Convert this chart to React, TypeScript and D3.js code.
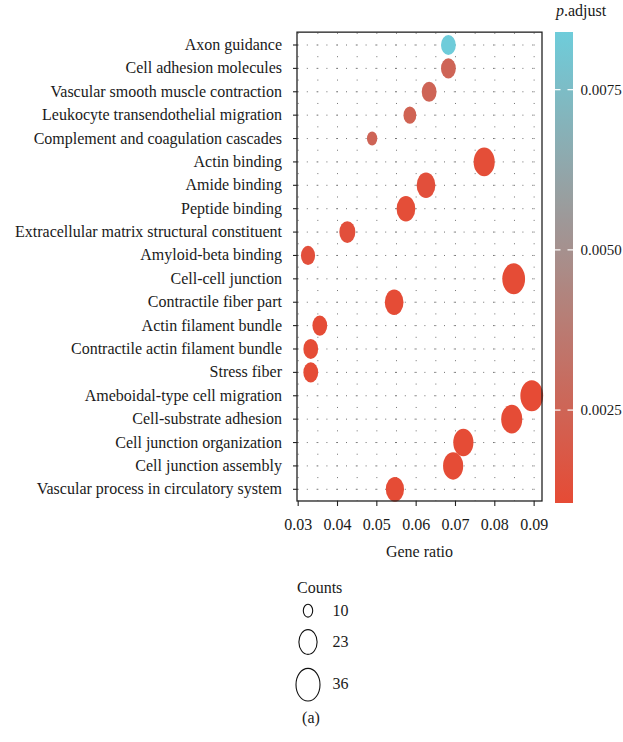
import React from "react";
import * as d3 from "d3";

const categories = [
  "Axon guidance",
  "Cell adhesion molecules",
  "Vascular smooth muscle contraction",
  "Leukocyte transendothelial migration",
  "Complement and coagulation cascades",
  "Actin binding",
  "Amide binding",
  "Peptide binding",
  "Extracellular matrix structural constituent",
  "Amyloid-beta binding",
  "Cell-cell junction",
  "Contractile fiber part",
  "Actin filament bundle",
  "Contractile actin filament bundle",
  "Stress fiber",
  "Ameboidal-type cell migration",
  "Cell-substrate adhesion",
  "Cell junction organization",
  "Cell junction assembly",
  "Vascular process in circulatory system",
];
const geneRatio = [
  0.0682, 0.0682, 0.0633, 0.0584, 0.0488, 0.0773, 0.0625, 0.0574, 0.0425, 0.0325,
  0.0848, 0.0544, 0.0355, 0.0332, 0.0332, 0.0894, 0.0843, 0.072, 0.0694, 0.0546,
];
const counts = [17, 17, 17, 14, 11, 29, 24, 24, 19, 16, 33, 24, 17, 17, 17, 33, 29, 27, 27, 23];
const pAdjust = [
  0.0084, 0.0025, 0.0025, 0.0024, 0.0025, 0.0012, 0.0013, 0.0012, 0.0013, 0.0013,
  0.0011, 0.0011, 0.0011, 0.0011, 0.0011, 0.00105, 0.0011, 0.0011, 0.0011, 0.0011,
];
const xTicks = [0.03, 0.04, 0.05, 0.06, 0.07, 0.08, 0.09];
const xMinorTicks = [0.035, 0.045, 0.055, 0.065, 0.075, 0.085];
const colorTicks = [0.0025, 0.005, 0.0075];
const sizeBreaks = [10, 23, 36];

const FONT = "'Liberation Serif', 'Times New Roman', serif";
const FS = 16;

export default function App() {
  const left = 297, right = 542;
  const x = d3.scaleLinear().domain([0.0297, 0.092]).range([left, right]);
  const y = d3.scalePoint<string>().domain(categories).range([45, 489.3]);
  const step = y.step();
  const top = 45 - 0.55 * step;
  const bottom = 489.3 + 0.5 * step;

  const pMin = 0.00105, pMax = 0.0084;
  const color = d3
    .scaleLinear<string>()
    .domain([pMin, pMax])
    .range(["#E64B35", "#6ECCDA"])
    .interpolate(d3.interpolateRgb);

  const area = d3.scaleLinear().domain([10, 36]).range([22, 144]);
  const rx = (c: number) => Math.sqrt(Math.max(area(c), 1));
  const aspect = 1.36;

  const cbTop = 32, cbBottom = 503, cbLeft = 555, cbW = 18;
  const cy = d3.scaleLinear().domain([pMin, pMax]).range([cbBottom, cbTop]);
  const stops = d3.range(0, 21).map((i) => {
    const t = i / 20;
    return { off: t, col: color(pMin + (pMax - pMin) * (1 - t)) };
  });

  const legendY = [610.7, 642, 684.7];
  const legendLabelY = [615.5, 646.5, 689];

  return (
    <svg
      width={623}
      height={742}
      style={{ position: "absolute", left: 0, top: 0, background: "#fff" }}
      fontFamily={FONT}
    >
      <defs>
        <linearGradient id="cb" x1="0" y1="0" x2="0" y2="1">
          {stops.map((s, i) => (
            <stop key={i} offset={s.off} stopColor={s.col} />
          ))}
        </linearGradient>
      </defs>
      {/* grid */}
      <g stroke="#444" strokeWidth={1} opacity={0.75}>
        {[...xTicks, ...xMinorTicks].map((t, i) => (
          <line
            key={"v" + i}
            x1={x(t)}
            x2={x(t)}
            y1={top}
            y2={bottom}
            strokeDasharray={`1 ${step / 2 - 1}`}
            strokeDashoffset={-((45 - top) % (step / 2)) + 0.5}
          />
        ))}
        {categories.map((c, i) => (
          <line
            key={"h" + i}
            x1={left}
            x2={right}
            y1={y(c)}
            y2={y(c)}
            strokeDasharray="1 8.8"
          />
        ))}
      </g>
      {/* points */}
      {categories.map((c, i) => {
        const r = rx(counts[i]);
        return (
          <ellipse
            key={c}
            cx={x(geneRatio[i])}
            cy={y(c)}
            rx={r}
            ry={r * aspect}
            fill={color(pAdjust[i])}
          />
        );
      })}
      {/* panel border */}
      <rect x={left} y={top} width={right - left} height={bottom - top} fill="none" stroke="#222" strokeWidth={1.3} />
      {/* y axis */}
      {categories.map((c) => (
        <g key={"yl" + c}>
          <line x1={left - 4} x2={left} y1={y(c)} y2={y(c)} stroke="#222" strokeWidth={1.1} />
          <text x={left - 15} y={y(c)! + 5} textAnchor="end" fontSize={FS} fill="#1a1a1a">
            {c}
          </text>
        </g>
      ))}
      {/* x axis */}
      {xTicks.map((t) => (
        <g key={"xt" + t}>
          <line x1={x(t)} x2={x(t)} y1={bottom} y2={bottom + 5} stroke="#222" strokeWidth={1.1} />
          <text x={x(t)} y={530} textAnchor="middle" fontSize={FS} fill="#1a1a1a">
            {d3.format(".2f")(t)}
          </text>
        </g>
      ))}
      <text x={(left + right) / 2} y={556.5} textAnchor="middle" fontSize={FS} fill="#1a1a1a">
        Gene ratio
      </text>
      {/* colorbar */}
      <text x={556} y={16} fontSize={FS} fill="#1a1a1a">
        <tspan fontStyle="italic">p</tspan>.adjust
      </text>
      <rect x={cbLeft} y={cbTop} width={cbW} height={cbBottom - cbTop} fill="url(#cb)" />
      {colorTicks.map((t) => (
        <g key={"ct" + t}>
          <line x1={cbLeft} x2={cbLeft + 5.5} y1={cy(t)} y2={cy(t)} stroke="#fff" strokeWidth={1.2} />
          <line x1={cbLeft + cbW - 5.5} x2={cbLeft + cbW} y1={cy(t)} y2={cy(t)} stroke="#fff" strokeWidth={1.2} />
          <text x={580.5} y={cy(t) + 5} fontSize={15} fill="#1a1a1a">
            {d3.format(".4f")(t)}
          </text>
        </g>
      ))}
      {/* size legend */}
      <text x={297} y={593} fontSize={FS} fill="#1a1a1a">
        Counts
      </text>
      {sizeBreaks.map((b, i) => {
        const r = rx(b);
        return (
          <g key={"sl" + b}>
            <ellipse cx={308} cy={legendY[i]} rx={r} ry={r * aspect} fill="none" stroke="#111" strokeWidth={1.1} />
            <text x={332.5} y={legendLabelY[i]} fontSize={FS} fill="#1a1a1a">
              {b}
            </text>
          </g>
        );
      })}
      <text x={311} y={723} textAnchor="middle" fontSize={FS} fill="#1a1a1a">
        (a)
      </text>
    </svg>
  );
}
